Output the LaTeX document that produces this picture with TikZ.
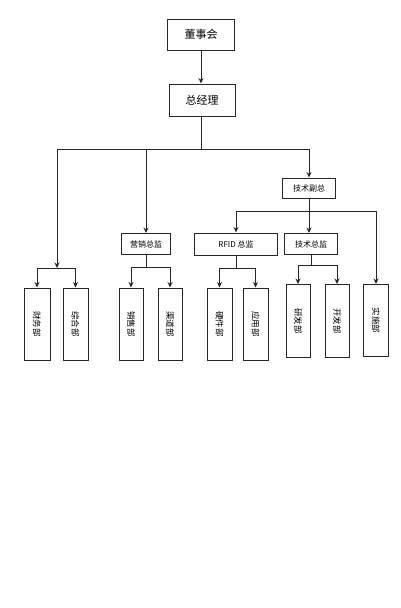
\documentclass[tikz,border=0pt]{standalone}
\usepackage{fontspec}
\setmainfont{Noto Sans CJK SC}
\usetikzlibrary{arrows.meta}

\tikzset{
    orgbox/.style={draw=black!85, line width=1pt, inner sep=0pt, align=center},
    topbox/.style={orgbox, minimum height=31pt, font=\fontsize{11}{11}\selectfont},
    midbox/.style={orgbox, minimum height=21pt, font=\fontsize{8}{8}\selectfont},
    deptbox/.style={orgbox, minimum width=25pt, minimum height=72pt, font=\fontsize{8.5}{8.5}\selectfont},
    wire/.style={draw=black!85, line width=1pt}
}
\newcommand{\vtext}[1]{\rotatebox{-90}{#1}}

\begin{document}
\begin{tikzpicture}[x=1pt, y=-1pt, >={Stealth[length=5.5pt,width=5pt]}]
    \useasboundingbox[fill=white] (0,0) rectangle (400,608);

    \node[topbox, minimum width=67pt] (dsh) at (201,34.5) {董事会};
    \node[topbox, minimum width=66pt, minimum height=32pt] (zjl) at (202,100) {总经理};

    \node[midbox, minimum width=53pt, minimum height=20pt] (jsfz) at (309,188) {技术副总};
    \node[midbox, minimum width=49pt] (yxzj) at (146,244) {营销总监};
    \node[midbox, minimum width=83pt, minimum height=22pt] (rfid) at (236,244) {RFID 总监};
    \node[midbox, minimum width=53pt] (jszj) at (311,244) {技术总监};

    \node[deptbox, minimum width=26pt] (cw) at (37,324) {\vtext{财务部}};
    \node[deptbox] (zh) at (75.5,324) {\vtext{综合部}};
    \node[deptbox, minimum width=24pt] (xs) at (131,324) {\vtext{销售部}};
    \node[deptbox, minimum width=24pt] (qd) at (170,324) {\vtext{渠道部}};
    \node[deptbox] (yj) at (219.5,324) {\vtext{硬件部}};
    \node[deptbox] (yy) at (255.5,324) {\vtext{应用部}};
    \node[deptbox, minimum width=24pt, minimum height=73pt] (yf) at (298,321) {\vtext{研发部}};
    \node[deptbox, minimum width=24pt, minimum height=73pt] (kf) at (337,321) {\vtext{开发部}};
    \node[deptbox, minimum height=72pt] (ss) at (376,320.5) {\vtext{实施部}};

    \coordinate (b1) at (201,149);
    \coordinate (b2) at (309,211);
    \coordinate (ga) at (57,268);
    \coordinate (gb) at (146,267);
    \coordinate (gc) at (236,268);
    \coordinate (gd) at (311,265);

    \draw[wire, ->] (dsh.south -| b1) -- (zjl.north -| b1);
    \draw[wire] (zjl.south -| b1) -- (b1);
    \draw[wire] (ga |- b1) -- (jsfz.north |- b1);
    \draw[wire, ->] (ga |- b1) -- (ga);
    \draw[wire, ->] (yxzj.north |- b1) -- (yxzj.north);
    \draw[wire, ->] (jsfz.north |- b1) -- (jsfz.north);

    \draw[wire] (jsfz.south) -- (b2);
    \draw[wire] (rfid.north |- b2) -- (ss.north |- b2);
    \draw[wire, ->] (rfid.north |- b2) -- (rfid.north);
    \draw[wire, ->] (b2) -- (b2 |- jszj.north);
    \draw[wire, ->] (ss.north |- b2) -- (ss.north);

    \draw[wire] (yxzj.south) -- (gb);
    \draw[wire] (rfid.south) -- (gc);
    \draw[wire] (jszj.south) -- (gd);
    \foreach \l/\r/\g in {cw/zh/ga, xs/qd/gb, yj/yy/gc, yf/kf/gd}
        \draw[wire] (\l.north |- \g) -- (\r.north |- \g);
    \foreach \n/\g in {cw/ga, zh/ga, xs/gb, qd/gb, yj/gc, yy/gc, yf/gd, kf/gd}
        \draw[wire, ->] (\n.north |- \g) -- (\n.north);
\end{tikzpicture}
\end{document}
